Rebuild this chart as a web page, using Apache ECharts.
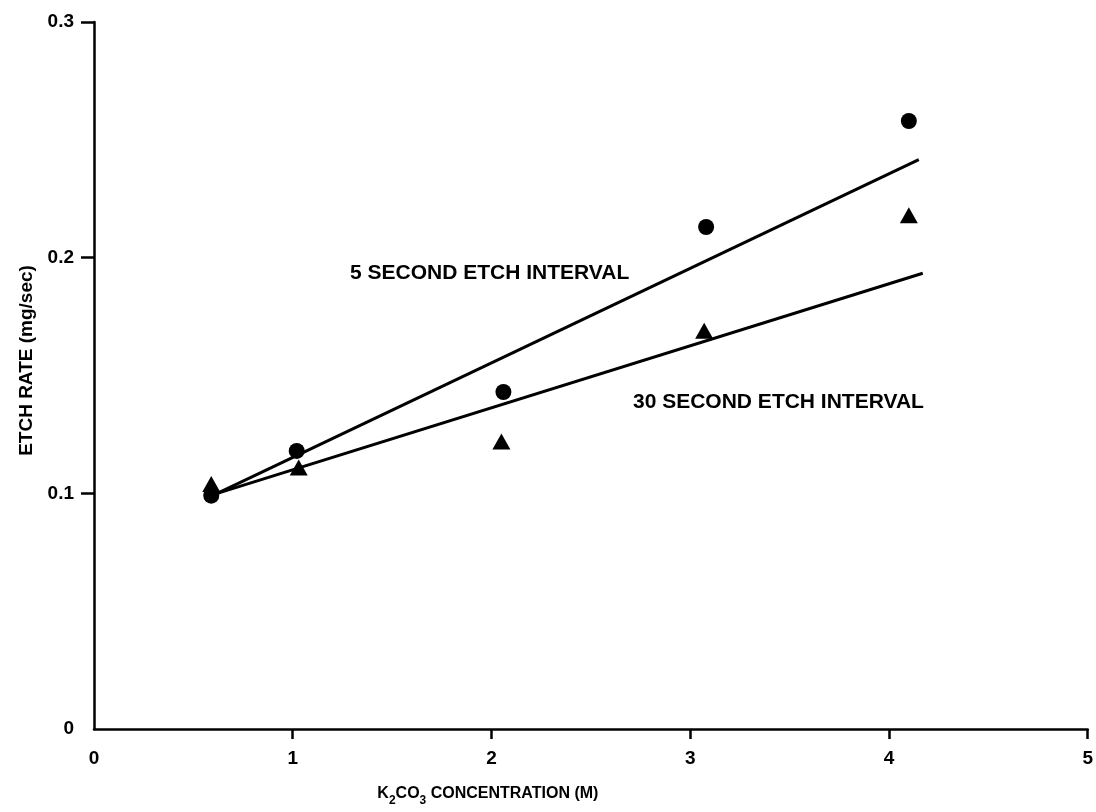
<!DOCTYPE html>
<html>
<head>
<meta charset="utf-8">
<title>Etch rate vs K2CO3 concentration</title>
<script src="https://cdn.jsdelivr.net/npm/echarts@6/dist/echarts.min.js"></script>
<style>
  html, body { margin: 0; padding: 0; background: #fff; }
  #chart { width: 1096px; height: 812px; }
</style>
</head>
<body>
<div id="chart"></div>
<script>
// axis ticks
var xTicks = [0, 1, 2, 3, 4, 5];
var yTicks = [0, 0.1, 0.2, 0.3];

// 5 second etch interval (circles)
var conc5 = [0.59, 1.02, 2.06, 3.08, 4.10];
var rate5 = [0.099, 0.118, 0.143, 0.213, 0.258];

// 30 second etch interval (triangles)
var conc30 = [0.59, 1.03, 2.05, 3.07, 4.10];
var rate30 = [0.104, 0.111, 0.122, 0.169, 0.218];

// fitted lines, read as end points
var fit5 = [[0.62, 0.100], [4.15, 0.2416]];
var fit30 = [[0.62, 0.100], [4.17, 0.1934]];

var font = "'Liberation Sans', Arial, sans-serif";

function pairs(xs, ys) {
  return xs.map(function (x, i) { return [x, ys[i]]; });
}

var chart = echarts.init(document.getElementById('chart'));
chart.setOption({
  animation: false,
  backgroundColor: '#fff',
  grid: { left: 94, right: 4, top: 22, bottom: 81 },
  xAxis: {
    type: 'value',
    min: xTicks[0],
    max: xTicks[xTicks.length - 1],
    interval: 1,
    splitLine: { show: false },
    axisLine: { lineStyle: { color: '#000', width: 2.5 } },
    axisTick: { length: 10, customValues: xTicks.slice(1), lineStyle: { color: '#000', width: 2.5 } },
    axisLabel: { color: '#000', fontFamily: font, fontWeight: 'bold', fontSize: 19, margin: 20 },
    name: '{n|K}{s|2}{n|CO}{s|3}{n| CONCENTRATION (M)}',
    nameLocation: 'middle',
    nameGap: 52,
    nameTextStyle: {
      padding: [0, 206, 0, 0],
      rich: {
        n: { color: '#000', fontFamily: font, fontWeight: 'bold', fontSize: 16, lineHeight: 26 },
        s: { color: '#000', fontFamily: font, fontWeight: 'bold', fontSize: 12, lineHeight: 10, verticalAlign: 'bottom' }
      }
    }
  },
  yAxis: {
    type: 'value',
    min: yTicks[0],
    max: yTicks[yTicks.length - 1],
    interval: 0.1,
    splitLine: { show: false },
    axisLine: { lineStyle: { color: '#000', width: 2.5 } },
    axisTick: { length: 13, customValues: yTicks.slice(1), lineStyle: { color: '#000', width: 2.5 } },
    axisLabel: { color: '#000', fontFamily: font, fontWeight: 'bold', fontSize: 19, margin: 20 },
    name: 'ETCH RATE (mg/sec)',
    nameLocation: 'middle',
    nameGap: 58,
    nameTextStyle: { color: '#000', fontFamily: font, fontWeight: 'bold', fontSize: 19, padding: [0, 0, 0, 30] }
  },
  graphic: [
    { type: 'text', left: 350, top: 263, style: { text: '5 SECOND ETCH INTERVAL', fill: '#000', font: 'bold 21px ' + font } },
    { type: 'text', left: 633, top: 392, style: { text: '30 SECOND ETCH INTERVAL', fill: '#000', font: 'bold 21px ' + font } }
  ],
  series: [
    {
      type: 'line',
      data: fit5,
      showSymbol: false,
      lineStyle: { color: '#000', width: 3 }
    },
    {
      type: 'line',
      data: fit30,
      showSymbol: false,
      lineStyle: { color: '#000', width: 3 }
    },
    {
      type: 'scatter',
      data: pairs(conc5, rate5),
      symbol: 'circle',
      symbolSize: 16,
      itemStyle: { color: '#000', opacity: 1 }
    },
    {
      type: 'scatter',
      data: pairs(conc30, rate30),
      symbol: 'triangle',
      symbolSize: [18, 16],
      itemStyle: { color: '#000', opacity: 1 }
    }
  ]
});
</script>
</body>
</html>
